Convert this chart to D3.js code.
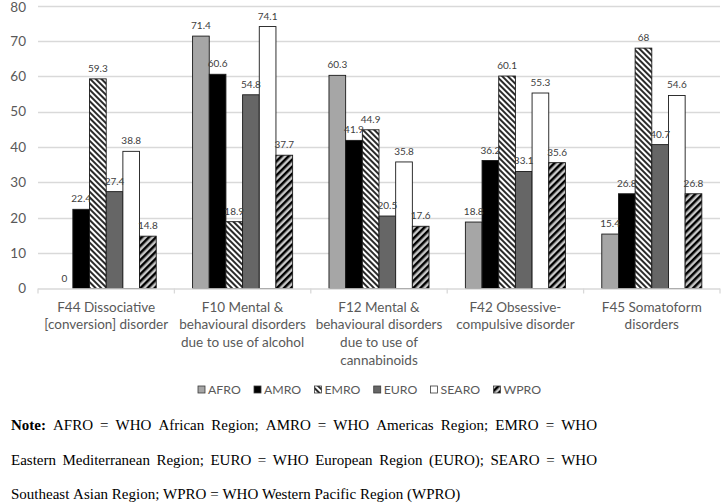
<!DOCTYPE html>
<html>
<head>
<meta charset="utf-8">
<script src="https://cdn.jsdelivr.net/npm/d3@7"></script>
<style>
  html, body { margin: 0; padding: 0; background: #fff; }
  svg { display: block; }
</style>
</head>
<body>
<svg id="chart" width="722" height="504"></svg>
<script>
// ---- data ----
const categories = ["F44", "F10", "F12", "F42", "F45"];
const categoryLabels = [
  ["F44 Dissociative", "[conversion] disorder"],
  ["F10 Mental &", "behavioural disorders", "due to use of alcohol"],
  ["F12 Mental &", "behavioural disorders", "due to use of", "cannabinoids"],
  ["F42 Obsessive-", "compulsive disorder"],
  ["F45 Somatoform", "disorders"]
];
const series = ["AFRO", "AMRO", "EMRO", "EURO", "SEARO", "WPRO"];
const AFRO  = [0, 71.4, 60.3, 18.8, 15.4];
const AMRO  = [22.4, 60.6, 41.9, 36.2, 26.8];
const EMRO  = [59.3, 18.9, 44.9, 60.1, 68];
const EURO  = [27.4, 54.8, 20.5, 33.1, 40.7];
const SEARO = [38.8, 74.1, 35.8, 55.3, 54.6];
const WPRO  = [14.8, 37.7, 17.6, 35.6, 26.8];
const yTicks = [0, 10, 20, 30, 40, 50, 60, 70, 80];
const noteLines = [
  "Note: AFRO = WHO African Region; AMRO = WHO Americas Region; EMRO = WHO",
  "Eastern Mediterranean Region; EURO = WHO European Region (EURO); SEARO = WHO",
  "Southeast Asian Region; WPRO = WHO Western Pacific Region (WPRO)"
];

const valuesBySeries = { AFRO, AMRO, EMRO, EURO, SEARO, WPRO };

// ---- setup ----
const svg = d3.select("#chart");
const sansFont = "Lato, 'Liberation Sans', sans-serif";
const serifFont = "'Liberation Serif', 'Times New Roman', serif";

const defs = svg.append("defs");
const pEmro = defs.append("pattern").attr("id", "pEMRO")
  .attr("patternUnits", "userSpaceOnUse").attr("width", 4).attr("height", 4)
  .attr("patternTransform", "rotate(-45)");
pEmro.append("rect").attr("width", 4).attr("height", 4).attr("fill", "#ffffff");
pEmro.append("rect").attr("width", 2).attr("height", 4).attr("fill", "#2b2b2b");

const pWpro = defs.append("pattern").attr("id", "pWPRO")
  .attr("patternUnits", "userSpaceOnUse").attr("width", 5).attr("height", 5)
  .attr("patternTransform", "rotate(45)");
pWpro.append("rect").attr("width", 5).attr("height", 5).attr("fill", "#c8c8c8");
pWpro.append("rect").attr("width", 2.5).attr("height", 5).attr("fill", "#000000");

const fills = {
  AFRO: "#a6a6a6",
  AMRO: "#000000",
  EMRO: "url(#pEMRO)",
  EURO: "#666666",
  SEARO: "#ffffff",
  WPRO: "url(#pWPRO)"
};

const plotLeft = 38, plotRight = 720, plotTop = 5.7, plotBottom = 288.5;

const x0 = d3.scaleBand().domain(categories).range([plotLeft, plotRight]).paddingInner(0).paddingOuter(0);
const x1 = d3.scaleBand().domain(series).range([0, x0.bandwidth()]).paddingInner(0).paddingOuter(1.09);
const y = d3.scaleLinear().domain([0, 80]).range([plotBottom, plotTop]);

// gridlines
svg.append("g").selectAll("line").data(yTicks.filter(d => d > 0)).join("line")
  .attr("x1", plotLeft).attr("x2", plotRight)
  .attr("y1", d => Math.round(y(d)) + 0.5).attr("y2", d => Math.round(y(d)) + 0.5)
  .attr("stroke", "#d9d9d9").attr("stroke-width", 1.3);

// y tick labels
svg.append("g").selectAll("text").data(yTicks).join("text")
  .attr("x", 26).attr("y", d => Math.max(y(d), 7.5)).attr("dy", "0.35em")
  .attr("text-anchor", "end")
  .attr("font-family", sansFont).attr("font-size", 13.5).attr("fill", "#595959")
  .text(d => d);

// bars
const groups = svg.append("g").selectAll("g").data(categories).join("g")
  .attr("transform", d => `translate(${x0(d)},0)`);

groups.selectAll("rect").data((c, i) => series.map(s => ({ s, v: valuesBySeries[s][i] }))).join("rect")
  .attr("x", d => x1(d.s)).attr("width", x1.bandwidth())
  .attr("y", d => y(d.v)).attr("height", d => y(0) - y(d.v))
  .attr("fill", d => fills[d.s])
  .attr("stroke", d => d.v > 0 ? "#1a1a1a" : "none").attr("stroke-width", 0.9);

groups.selectAll("text").data((c, i) => series.map(s => ({ s, v: valuesBySeries[s][i] }))).join("text")
  .attr("x", d => x1(d.s) + x1.bandwidth() / 2).attr("y", d => y(d.v) - 7)
  .attr("text-anchor", "middle")
  .attr("font-family", sansFont).attr("font-size", 10).attr("fill", "#404040")
  .text(d => d.v);

// x axis line and ticks
svg.append("line").attr("x1", plotLeft).attr("x2", plotRight)
  .attr("y1", plotBottom + 0.5).attr("y2", plotBottom + 0.5)
  .attr("stroke", "#d9d9d9").attr("stroke-width", 1.3);
const boundaries = categories.map(c => x0(c)).concat([plotRight]);
svg.append("g").selectAll("line").data(boundaries).join("line")
  .attr("x1", d => d).attr("x2", d => d)
  .attr("y1", plotBottom).attr("y2", plotBottom + 5)
  .attr("stroke", "#d9d9d9").attr("stroke-width", 1.3);

// category labels
const catG = svg.append("g").selectAll("text").data(categories).join("text")
  .attr("text-anchor", "middle")
  .attr("font-family", sansFont).attr("font-size", 13.5).attr("fill", "#595959");
catG.each(function (c, i) {
  const t = d3.select(this);
  categoryLabels[i].forEach((line, j) => {
    t.append("tspan").attr("x", x0(c) + x0.bandwidth() / 2).attr("y", 311.5 + j * 17.7).text(line);
  });
});

// legend
const legend = svg.append("g");
const items = legend.selectAll("g").data(series).join("g");
items.append("rect").attr("width", 7).attr("height", 7).attr("y", -3.5)
  .attr("fill", d => fills[d]).attr("stroke", "#3a3a3a").attr("stroke-width", 0.8);
items.append("text").attr("x", 10).attr("dy", "0.35em")
  .attr("font-family", sansFont).attr("font-size", 12.3).attr("fill", "#595959")
  .text(d => d);
const widths = [];
items.each(function () {
  widths.push(d3.select(this).select("text").node().getComputedTextLength());
});
const legendStart = 198, legendEnd = 541;
const gap = (legendEnd - legendStart - d3.sum(widths.map(w => 10 + w))) / (series.length - 1);
let lx = legendStart;
items.attr("transform", (d, i) => {
  const tx = lx; lx += 10 + widths[i] + gap;
  return `translate(${tx},389.5)`;
});

// note (justified first two lines)
const noteLeft = 11, noteRight = 597;
const baselines = [429.5, 464.5, 499];
noteLines.forEach((line, li) => {
  const words = line.split(" ");
  const t = svg.append("text").attr("y", baselines[li])
    .attr("font-family", serifFont).attr("font-size", 15).attr("fill", "#000");
  const spans = words.map((w, wi) => t.append("tspan")
    .attr("font-weight", (li === 0 && wi === 0) ? "bold" : null)
    .text(w));
  const ws = spans.map(s => s.node().getComputedTextLength());
  const justify = li < 2;
  const spaceW = justify ? (noteRight - noteLeft - d3.sum(ws)) / (words.length - 1) : 3.75;
  let cx = noteLeft;
  spans.forEach((s, i) => { s.attr("x", cx); cx += ws[i] + spaceW; });
});
</script>
</body>
</html>
